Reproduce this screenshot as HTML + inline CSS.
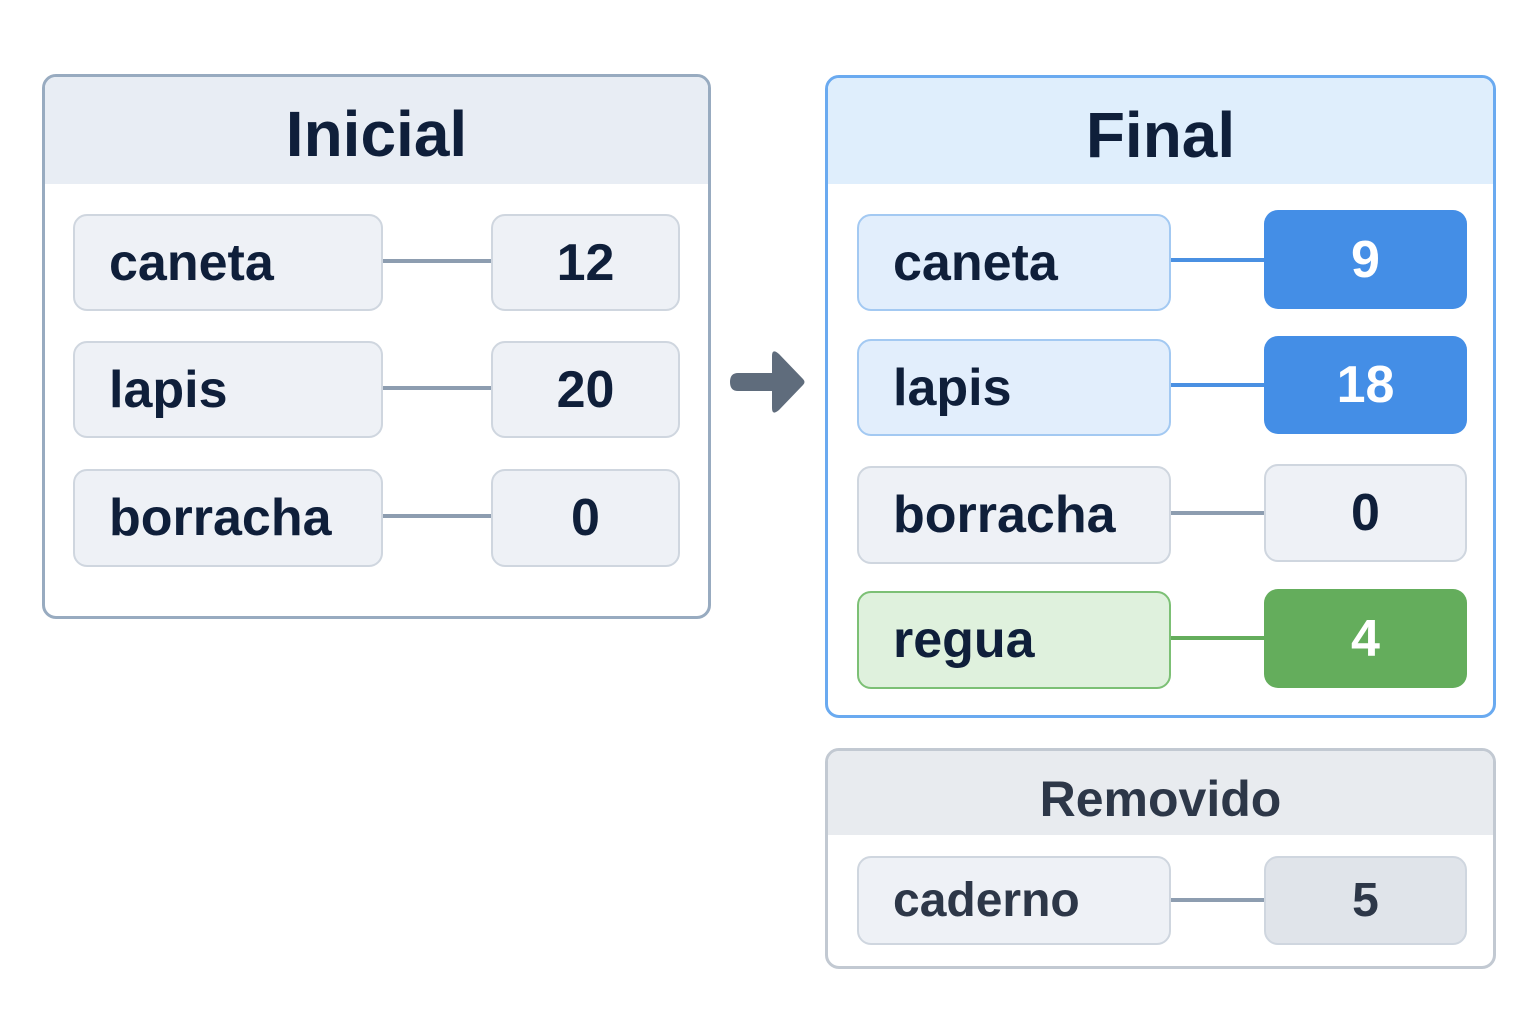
<!DOCTYPE html>
<html><head><meta charset="utf-8"><style>
body{margin:0;width:1536px;height:1024px;background:#fff;position:relative;overflow:hidden;font-family:"Liberation Sans",sans-serif;font-weight:bold;}
.a{position:absolute;box-sizing:border-box;}
.panel{border-radius:14px;overflow:hidden;border:3px solid;}
.hdr{position:absolute;left:0;right:0;top:0;text-align:center;}
.k{position:absolute;box-sizing:border-box;border:2px solid #cfd6df;background:#eef1f6;border-radius:14px;color:#0f1f3a;font-size:52px;padding-left:34px;display:flex;align-items:center;}
.v{position:absolute;box-sizing:border-box;border:2px solid #cfd6df;background:#eef1f6;border-radius:14px;color:#0f1f3a;font-size:52px;display:flex;align-items:center;justify-content:center;}
.ln{position:absolute;height:4px;background:#8d9db0;}
</style></head><body>

<div class="a panel" style="left:42px;top:74px;width:669px;height:545px;border-color:#98abc0;">
  <div class="hdr" style="height:107px;background:#e8edf4;font-size:64px;line-height:114px;color:#0f1f3a;">Inicial</div>
</div>
<div class="ln" style="left:380px;width:112px;top:259px"></div>
<div class="ln" style="left:380px;width:112px;top:386px"></div>
<div class="ln" style="left:380px;width:112px;top:514px"></div>
<div class="k" style="left:73px;top:214px;width:310px;height:97px">caneta</div>
<div class="v" style="left:491px;top:214px;width:189px;height:97px">12</div>
<div class="k" style="left:73px;top:341px;width:310px;height:97px">lapis</div>
<div class="v" style="left:491px;top:341px;width:189px;height:97px">20</div>
<div class="k" style="left:73px;top:469px;width:310px;height:98px">borracha</div>
<div class="v" style="left:491px;top:469px;width:189px;height:98px">0</div>

<svg class="a" style="left:0;top:0" width="1536" height="1024">
  <path d="M738 373 L772 373 L772 356 Q772 348 779 354 L803 379 Q806 382 803 385 L779 410 Q772 416 772 408 L772 391 L738 391 Q730 391 730 382 Q730 373 738 373 Z" fill="#5f6c7c"/>
</svg>

<div class="a panel" style="left:825px;top:75px;width:671px;height:643px;border-color:#6aaaf0;">
  <div class="hdr" style="height:106px;background:#dfeefc;font-size:64px;line-height:114px;color:#0f1f3a;">Final</div>
</div>
<div class="ln" style="left:1168px;width:98px;top:258px;background:#4a90e2"></div>
<div class="ln" style="left:1168px;width:98px;top:383px;background:#4a90e2"></div>
<div class="ln" style="left:1168px;width:98px;top:511px"></div>
<div class="ln" style="left:1168px;width:98px;top:636px;background:#64ad5c"></div>
<div class="k" style="left:857px;top:214px;width:314px;height:97px;background:#e2eefc;border-color:#a3c9f2">caneta</div>
<div class="v" style="left:1264px;top:210px;width:203px;height:99px;background:#448ee6;border:none;color:#fff">9</div>
<div class="k" style="left:857px;top:339px;width:314px;height:97px;background:#e2eefc;border-color:#a3c9f2">lapis</div>
<div class="v" style="left:1264px;top:336px;width:203px;height:98px;background:#448ee6;border:none;color:#fff">18</div>
<div class="k" style="left:857px;top:466px;width:314px;height:98px">borracha</div>
<div class="v" style="left:1264px;top:464px;width:203px;height:98px">0</div>
<div class="k" style="left:857px;top:591px;width:314px;height:98px;background:#dff1dd;border-color:#7cc075">regua</div>
<div class="v" style="left:1264px;top:589px;width:203px;height:99px;background:#64ad5c;border:none;color:#fff">4</div>

<div class="a panel" style="left:825px;top:748px;width:671px;height:221px;border-color:#c2c9d2;">
  <div class="hdr" style="height:84px;background:#e8ebef;font-size:50px;line-height:96px;color:#2d3748;">Removido</div>
</div>
<div class="ln" style="left:1168px;width:98px;top:898px"></div>
<div class="k" style="left:857px;top:856px;width:314px;height:89px;color:#2d3748;font-size:48px">caderno</div>
<div class="v" style="left:1264px;top:856px;width:203px;height:89px;background:#e0e4ea;color:#2d3748;font-size:48px">5</div>

</body></html>
